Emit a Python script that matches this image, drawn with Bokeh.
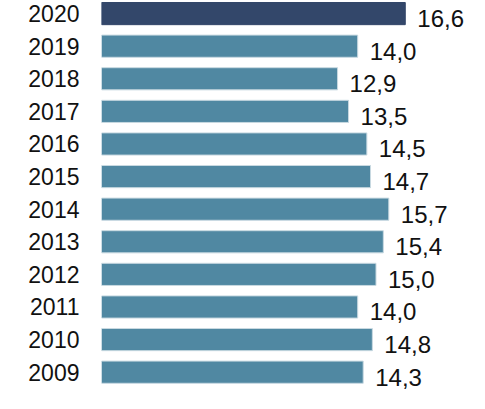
from bokeh.plotting import figure
from bokeh.models import ColumnDataSource, Range1d, FixedTicker, LinearAxis
from bokeh.core.properties import value
from bokeh.embed import file_html
from bokeh.resources import INLINE

years = [2020, 2019, 2018, 2017, 2016, 2015, 2014, 2013, 2012, 2011, 2010, 2009]
values = [16.6, 14.0, 12.9, 13.5, 14.5, 14.7, 15.7, 15.4, 15.0, 14.0, 14.8, 14.3]
labels = [f"{v:.1f}".replace(".", ",") for v in values]
highlight_year = 2020

colors = ["#33476a" if y == highlight_year else "#5088a2" for y in years]
lines = ["#33476a" if y == highlight_year else "#c8d9e1" for y in years]

src = ColumnDataSource(dict(y=years, v=values, lab=labels, c=colors, lc=lines))

W, H = 469, 393
left = 101
px_per_unit = 18.3
px_per_year = 32.6
bar_h = 0.68
top = 2020 + bar_h / 2 + 2 / px_per_year
p = figure(width=W, height=H, output_backend="svg", toolbar_location=None,
           x_range=Range1d(0, (W - left) / px_per_unit),
           y_range=Range1d(top - H / px_per_year, top),
           min_border_left=left, min_border_right=0, min_border_top=0, min_border_bottom=0,
           x_axis_location=None, y_axis_location=None)
p.outline_line_color = None
p.xgrid.visible = False
p.ygrid.visible = False
p.background_fill_color = "white"
p.border_fill_color = "white"

yaxis = LinearAxis(ticker=FixedTicker(ticks=years))
yaxis.axis_line_color = None
yaxis.major_tick_line_color = None
yaxis.minor_tick_line_color = None
yaxis.major_tick_out = 0
yaxis.major_tick_in = 0
yaxis.major_label_standoff = 22
yaxis.major_label_text_font = "Liberation Sans"
yaxis.major_label_text_font_size = "23px"
yaxis.major_label_text_color = "#111111"
p.add_layout(yaxis, "left")

p.hbar(y="y", right="v", left=0, height=bar_h, fill_color="c", line_color="lc",
       line_width=1, source=src)

p.text(x="v", y="y", text="lab", source=src, x_offset=12, y_offset=5,
       text_font=value("Liberation Sans"), text_font_size="24px",
       text_color="#111111", text_baseline="middle", text_align="left")

open("out.html", "w").write(file_html(p, INLINE))
